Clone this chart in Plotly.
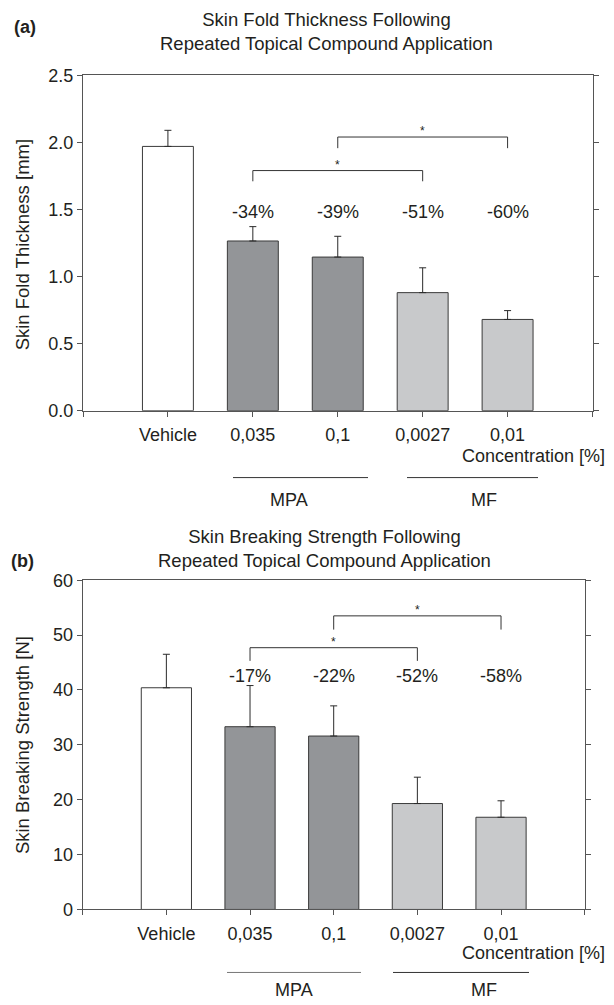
import plotly.graph_objects as go

# page is 614x1005; browser body has an 8px default margin
PAGE_W, PAGE_H, OFF = 614, 1005, 8
W, H = PAGE_W - OFF, PAGE_H - OFF

# ---------------- data ----------------
categories = ["Vehicle", "0,035", "0,1", "0,0027", "0,01"]
groups = ["Vehicle", "MPA", "MPA", "MF", "MF"]

thickness_mean = [1.97, 1.265, 1.145, 0.88, 0.68]
thickness_err = [0.12, 0.107, 0.155, 0.185, 0.066]
thickness_pct = ["", "-34%", "-39%", "-51%", "-60%"]

strength_mean = [40.4, 33.3, 31.6, 19.3, 16.8]
strength_err = [6.1, 7.5, 5.5, 4.8, 3.0]
strength_pct = ["", "-17%", "-22%", "-52%", "-58%"]

# significance brackets: (from index, to index, top level, drop-to level)
thickness_brackets = [(1, 3, 1.79, 1.71), (2, 4, 2.04, 1.957)]
strength_brackets = [(1, 3, 47.7, 45.3), (2, 4, 53.5, 51.0)]
thickness_pct_level = 1.48
strength_pct_level = 42.6

group_colors = {"Vehicle": "#ffffff", "MPA": "#939598", "MF": "#c8c9cb"}

FONT = "Liberation Sans, Arial, Helvetica, sans-serif"
TXT = "#231f20"
AX = "#555555"


def px(x):
    return (x - OFF) / W


def py(y):
    return 1 - (y - OFF) / H


xs = list(range(len(categories)))
colors = [group_colors[g] for g in groups]

fig = go.Figure()


def add_panel(means, errs, xa, ya):
    fig.add_trace(go.Bar(
        x=xs, y=means, width=0.6, xaxis=xa, yaxis=ya,
        marker=dict(color=colors, line=dict(color="#3a3a3a", width=1)),
        error_y=dict(type="data", symmetric=False, array=errs,
                     arrayminus=[0] * len(errs), color="#2a2a2a",
                     thickness=1, width=3.5),
        showlegend=False, hoverinfo="skip",
    ))


add_panel(thickness_mean, thickness_err, "x", "y")
add_panel(strength_mean, strength_err, "x2", "y2")

shapes = []
annotations = []


def add_brackets(brackets, xref, yref, star_off):
    for a, b, top, drop in brackets:
        shapes.append(dict(
            type="path", xref=xref, yref=yref,
            path=f"M {a},{drop} L {a},{top} L {b},{top} L {b},{drop}",
            line=dict(color="#333333", width=1),
        ))
        annotations.append(dict(
            x=(a + b) / 2, y=top, xref=xref, yref=yref, text="*",
            showarrow=False, yanchor="bottom", yshift=star_off,
            font=dict(family=FONT, size=12, color=TXT),
        ))


add_brackets(thickness_brackets, "x", "y", -3)
add_brackets(strength_brackets, "x2", "y2", -3)

for i, t in enumerate(thickness_pct):
    if t:
        annotations.append(dict(x=i, y=thickness_pct_level, xref="x", yref="y",
                                text=t, showarrow=False,
                                font=dict(family=FONT, size=18, color=TXT)))
for i, t in enumerate(strength_pct):
    if t:
        annotations.append(dict(x=i, y=strength_pct_level, xref="x2", yref="y2",
                                text=t, showarrow=False,
                                font=dict(family=FONT, size=18, color=TXT)))


def text(x, y, s, size=18, bold=False, anchor="center", angle=0):
    annotations.append(dict(
        x=px(x), y=py(y), xref="paper", yref="paper",
        text=f"<b>{s}</b>" if bold else s,
        showarrow=False, xanchor=anchor, yanchor="middle", textangle=angle,
        font=dict(family=FONT, size=size, color=TXT),
    ))


def hline(x0, x1, y, color="#333333"):
    shapes.append(dict(type="line", xref="paper", yref="paper",
                       x0=px(x0), x1=px(x1), y0=py(y), y1=py(y),
                       line=dict(color=color, width=1)))


# panel a texts
text(25, 17, "(a)", bold=True)
text(326, 22, "Skin Fold Thickness Following<br>Repeated Topical Compound Application",
     size=18.5)
text(22, 240, "Skin Fold Thickness [mm]", size=18.5, angle=-90)
text(607, 455, "Concentration [%]", anchor="right")
hline(233, 368, 477)
hline(407, 538, 477)
text(289, 500, "MPA")
text(484, 500, "MF")

# panel b texts
text(22, 562, "(b)", bold=True)
text(324, 549, "Skin Breaking Strength Following<br>Repeated Topical Compound Application",
     size=18.5)
text(22, 750, "Skin Breaking Strength [N]", size=18.5, angle=-90)
text(607, 962, "Concentration [%]", anchor="right")
hline(227, 361, 982, color="#777777")
hline(393, 529, 982)
text(294, 1000, "MPA")
text(484, 1000, "MF")

common_x = dict(
    range=[-1, 5], tickvals=[-1] + xs + [5], ticktext=[""] + categories + [""],
    showline=True, mirror=True, linecolor=AX, linewidth=1,
    ticks="outside", ticklen=5, tickcolor=AX, showgrid=False, zeroline=False,
    ticklabelstandoff=3,
    tickfont=dict(family=FONT, size=18, color=TXT),
)
common_y = dict(
    showline=True, mirror="ticks", linecolor=AX, linewidth=1,
    ticks="outside", ticklen=5, tickcolor=AX, showgrid=False, zeroline=False,
    tickfont=dict(family=FONT, size=18, color=TXT),
)

fig.update_layout(
    width=W, height=H,
    margin=dict(l=0, r=0, t=0, b=0),
    paper_bgcolor="white", plot_bgcolor="white",
    font=dict(family=FONT, size=18, color=TXT),
    xaxis=dict(domain=[px(83), px(592.5)], anchor="y", **common_x),
    yaxis=dict(domain=[py(408.7), py(66.5)], anchor="x", range=[0, 2.5],
               tickvals=[0, 0.5, 1.0, 1.5, 2.0, 2.5], tickformat=".1f", **common_y),
    xaxis2=dict(domain=[px(82.7), px(584.7)], anchor="y2", **common_x),
    yaxis2=dict(domain=[py(917.7), py(581.7)], anchor="x2", range=[0, 60],
                tickvals=[0, 10, 20, 30, 40, 50, 60], **common_y),
    shapes=shapes,
    annotations=annotations,
)

fig.write_html("out.html")
